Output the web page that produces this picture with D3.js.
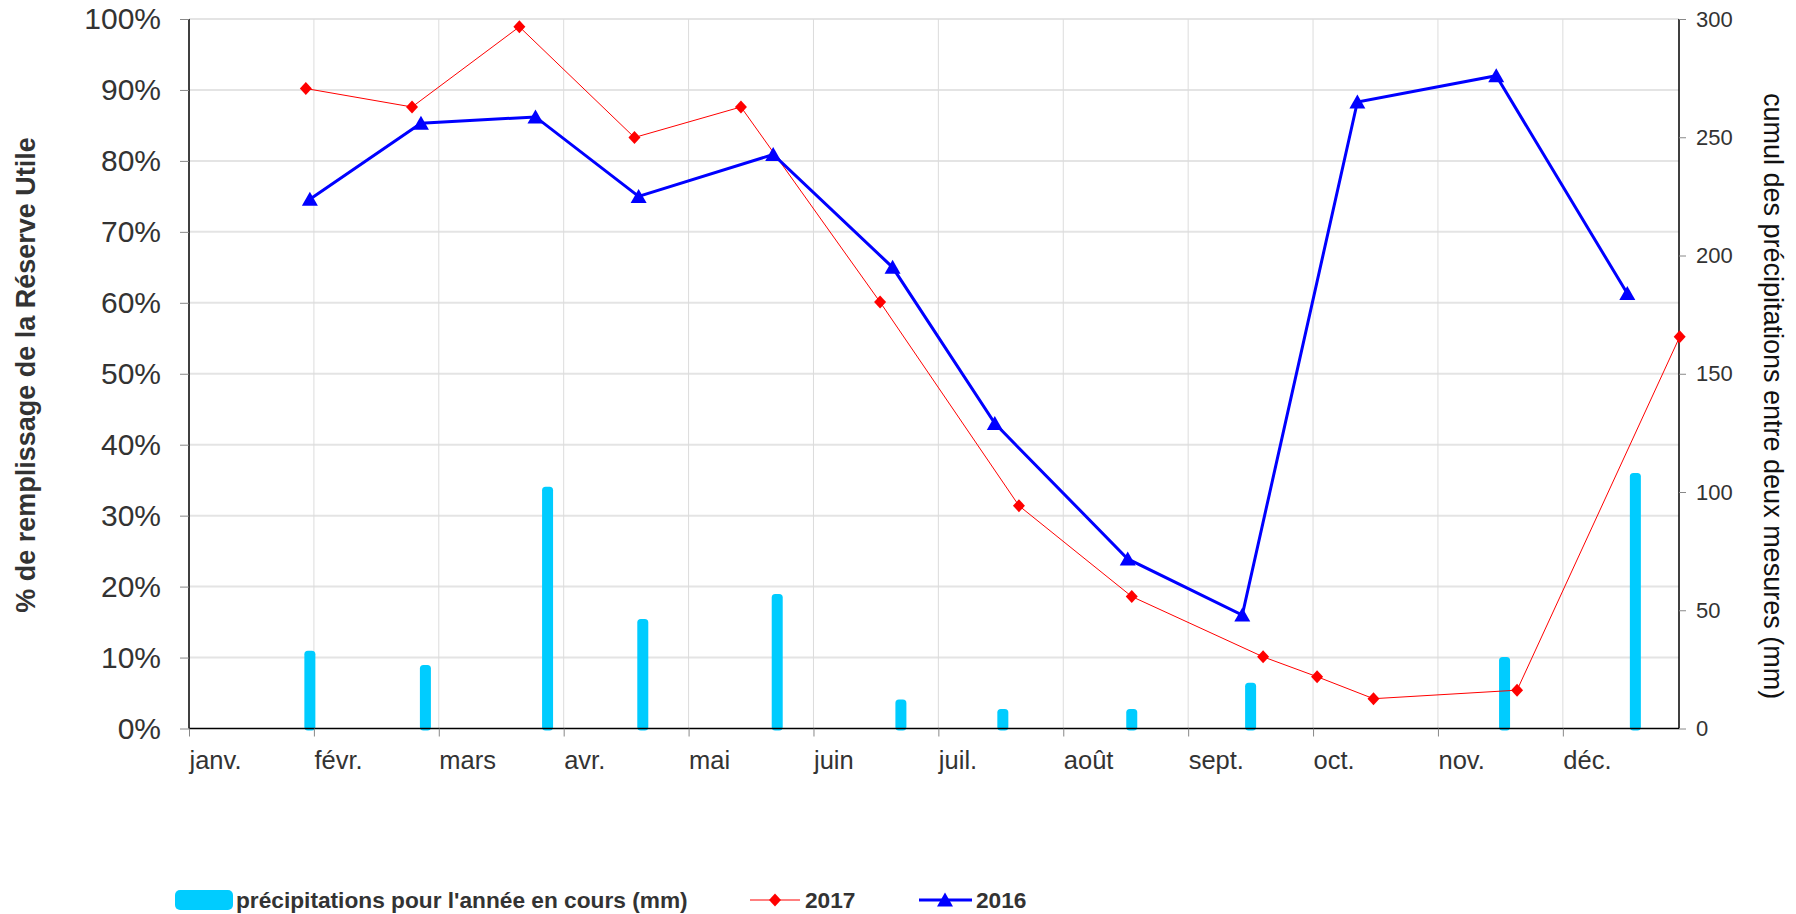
<!DOCTYPE html>
<html>
<head>
<meta charset="utf-8">
<script src="https://cdn.jsdelivr.net/npm/d3@7"></script>
<style>
  body { margin: 0; background: #fff; }
  svg { display: block; font-family: "Liberation Sans", Arial, sans-serif; }
</style>
</head>
<body>
<svg id="chart" width="1796" height="914"></svg>
<script>
// mois de l'axe
const mois = ["janv.", "févr.", "mars", "avr.", "mai", "juin", "juil.", "août", "sept.", "oct.", "nov.", "déc."];
const joursMois = [31, 28, 31, 30, 31, 30, 31, 31, 30, 31, 30, 31];

// 2017 : % de remplissage de la RU
const dates2017 = ["01-30", "02-23", "03-21", "04-18", "05-14", "06-17", "07-21", "08-18", "09-19", "10-02", "10-16", "11-20", "12-30"];
const ru2017 = [0.902, 0.876, 0.989, 0.833, 0.876, 0.601, 0.314, 0.186, 0.101, 0.073, 0.042, 0.054, 0.552];

// 2016
const dates2016 = ["01-31", "02-25", "03-25", "04-19", "05-22", "06-20", "07-15", "08-17", "09-14", "10-12", "11-15", "12-17"];
const ru2016 = [0.746, 0.853, 0.862, 0.750, 0.809, 0.650, 0.430, 0.239, 0.160, 0.883, 0.920, 0.613];

// précipitations pour l'année en cours (mm)
const datesPluie = ["01-31", "02-26", "03-28", "04-20", "05-23", "06-22", "07-17", "08-18", "09-16", "11-17", "12-19"];
const pluie = [32.9, 26.8, 102.2, 46.3, 56.9, 12.3, 8.2, 8.2, 19.3, 30.2, 108];

const pctTicks = [0, 0.1, 0.2, 0.3, 0.4, 0.5, 0.6, 0.7, 0.8, 0.9, 1];
const mmTicks = [0, 50, 100, 150, 200, 250, 300];

// "MM-DD" -> position en mois (0 = 1er janvier)
function enMois(s) {
  const m = +s.slice(0, 2) - 1, j = +s.slice(3, 5);
  return m + (j - 1) / joursMois[m];
}

const svg = d3.select("#chart");
const gauche = 189, droite = 1679, haut = 19, bas = 728.5;
const texte = "#333";
const police = "Liberation Sans, Arial, sans-serif";

const x = d3.scaleLinear().domain([0, 11.93]).range([gauche, droite]);
const yPct = d3.scaleLinear().domain([0, 1]).range([bas, haut]);
const yMm = d3.scaleLinear().domain([0, 300]).range([bas, haut]);

// grille horizontale
svg.append("g").selectAll("line").data(pctTicks.slice(1)).join("line")
  .attr("x1", gauche).attr("x2", droite)
  .attr("y1", d => yPct(d)).attr("y2", d => yPct(d))
  .attr("stroke", "#e4e4e4").attr("stroke-width", 2);

// grille verticale
svg.append("g").selectAll("line").data(d3.range(1, 12)).join("line")
  .attr("x1", d => x(d)).attr("x2", d => x(d))
  .attr("y1", haut).attr("y2", bas)
  .attr("stroke", "#dcdcdc").attr("stroke-width", 1);

// barres de précipitations
svg.append("g").selectAll("rect").data(pluie).join("rect")
  .attr("x", (d, i) => x(enMois(datesPluie[i])) - 5.5)
  .attr("width", 11)
  .attr("y", d => yMm(d))
  .attr("height", d => bas + 2 - yMm(d))
  .attr("rx", 3.5)
  .attr("fill", "#00ccff");

// axes
const axeG = svg.append("g")
  .attr("transform", `translate(${gauche},0)`)
  .call(d3.axisLeft(yPct).tickValues(pctTicks).tickFormat(d3.format(".0%")).tickSize(9).tickPadding(19));
axeG.select(".domain").attr("stroke", "#000").attr("stroke-width", 1.5).attr("d", `M0,${haut}V${bas}`);
axeG.selectAll(".tick line").attr("stroke", "#888");
axeG.selectAll(".tick text").attr("font-size", 30).attr("fill", texte).attr("font-family", police);

const axeD = svg.append("g")
  .attr("transform", `translate(${droite},0)`)
  .call(d3.axisRight(yMm).tickValues(mmTicks).tickSize(7).tickPadding(10));
axeD.select(".domain").attr("stroke", "#000").attr("stroke-width", 1.5).attr("d", `M0,${haut}V${bas}`);
axeD.selectAll(".tick line").attr("stroke", "#888");
axeD.selectAll(".tick text").attr("font-size", 22).attr("fill", texte).attr("font-family", police);

const axeX = svg.append("g")
  .attr("transform", `translate(0,${bas})`)
  .call(d3.axisBottom(x).tickValues(d3.range(0, 12)).tickFormat(i => mois[i]).tickSize(8).tickPadding(14));
axeX.select(".domain").attr("stroke", "#000").attr("stroke-width", 1.5).attr("d", `M${gauche},0H${droite}`);
axeX.selectAll(".tick line").attr("stroke", "#888");
axeX.selectAll(".tick text").attr("font-size", 25.5).attr("fill", texte).attr("text-anchor", "start")
  .attr("font-family", police);

// courbes
const ligne = d3.line().x(d => x(d[0])).y(d => yPct(d[1]));
const pts2017 = ru2017.map((v, i) => [enMois(dates2017[i]), v]);
const pts2016 = ru2016.map((v, i) => [enMois(dates2016[i]), v]);

const losange = "M0,-6.5L6,0L0,6.5L-6,0Z";
const triangle = "M0,-7.5L8,6.5L-8,6.5Z";

svg.append("path").datum(pts2017).attr("d", ligne)
  .attr("fill", "none").attr("stroke", "#ff0000").attr("stroke-width", 1);
svg.append("g").selectAll("path").data(pts2017).join("path")
  .attr("transform", d => `translate(${x(d[0])},${yPct(d[1])})`)
  .attr("d", losange).attr("fill", "#ff0000");

svg.append("path").datum(pts2016).attr("d", ligne)
  .attr("fill", "none").attr("stroke", "#0000ff").attr("stroke-width", 3);
svg.append("g").selectAll("path").data(pts2016).join("path")
  .attr("transform", d => `translate(${x(d[0])},${yPct(d[1])})`)
  .attr("d", triangle).attr("fill", "#0000ff");

// titres des axes
svg.append("text")
  .attr("transform", `translate(35,375) rotate(-90)`)
  .attr("text-anchor", "middle").attr("font-size", 27).attr("font-weight", "bold").attr("fill", texte)
  .text("% de remplissage de la Réserve Utile");

svg.append("text")
  .attr("transform", `translate(1764,396) rotate(90)`)
  .attr("text-anchor", "middle").attr("font-size", 27).attr("fill", "#111")
  .text("cumul des précipitations entre deux mesures (mm)");

// légende
const leg = svg.append("g").attr("font-size", 22.7).attr("font-weight", "bold").attr("fill", texte);
leg.append("rect").attr("x", 175).attr("y", 890).attr("width", 58).attr("height", 20).attr("rx", 5).attr("fill", "#00ccff");
leg.append("text").attr("x", 236).attr("y", 908).text("précipitations pour l'année en cours (mm)");

leg.append("line").attr("x1", 750).attr("x2", 800).attr("y1", 900).attr("y2", 900).attr("stroke", "#ff0000").attr("stroke-width", 1);
leg.append("path").attr("transform", "translate(775,900)").attr("d", losange).attr("fill", "#ff0000");
leg.append("text").attr("x", 805).attr("y", 908).text("2017");

leg.append("line").attr("x1", 919).attr("x2", 972).attr("y1", 900).attr("y2", 900).attr("stroke", "#0000ff").attr("stroke-width", 3);
leg.append("path").attr("transform", "translate(945,900)").attr("d", triangle).attr("fill", "#0000ff");
leg.append("text").attr("x", 976).attr("y", 908).text("2016");
</script>
</body>
</html>
